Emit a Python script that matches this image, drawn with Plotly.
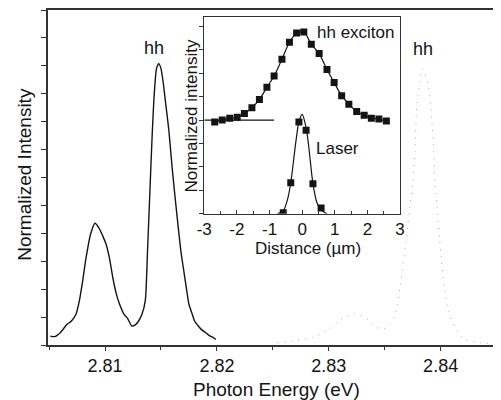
import plotly.graph_objects as go

# ---------------- data ----------------
# main spectrum (solid, left)
pl1_x = [2.8051, 2.8055, 2.8060, 2.8066, 2.8070, 2.8074, 2.8077, 2.8080, 2.8083,
         2.8087, 2.8091, 2.8095, 2.8098, 2.8101, 2.8104, 2.8107, 2.8110, 2.8113,
         2.8117, 2.8120, 2.8124, 2.8127, 2.8130, 2.8133, 2.8136, 2.8138, 2.8140,
         2.8142, 2.8144, 2.8146, 2.8148, 2.8150, 2.8152, 2.8154, 2.8157, 2.8160,
         2.8163, 2.8166, 2.8168, 2.8170, 2.8173, 2.8175, 2.8178, 2.8180, 2.8183,
         2.8186, 2.8190, 2.8194, 2.8197, 2.8199]
pl1_y = [0.16, 0.15, 0.22, 0.37, 0.43, 0.55, 0.79, 1.15, 1.56,
         1.98, 2.18, 2.08, 1.95, 1.80, 1.55, 1.20, 0.92, 0.73,
         0.55, 0.48, 0.34, 0.36, 0.43, 0.55, 0.80, 1.70, 2.70,
         3.70, 4.50, 4.95, 5.04, 4.95, 4.70, 4.36, 3.85, 3.17,
         2.57, 2.00, 1.65, 1.38, 0.98, 0.73, 0.55, 0.43, 0.35,
         0.28, 0.22, 0.16, 0.13, 0.10]

# second spectrum (dotted, right)
pl2_x = [2.8254, 2.8267, 2.8285, 2.8300, 2.8311, 2.8323, 2.8333, 2.8341, 2.8348,
         2.8355, 2.8359, 2.8364, 2.8369, 2.8373, 2.8375, 2.8377, 2.8379, 2.8384,
         2.8389, 2.8392, 2.8394, 2.8395, 2.8397, 2.8400, 2.8403, 2.8407, 2.8413,
         2.8421, 2.8435, 2.8447]
pl2_y = [0.04, 0.07, 0.13, 0.28, 0.46, 0.56, 0.49, 0.34, 0.28,
         0.38, 0.52, 1.08, 1.86, 2.57, 2.87, 3.46, 4.36, 4.95,
         4.66, 4.06, 3.46, 2.87, 2.45, 1.68, 1.08, 0.61, 0.31,
         0.10, 0.04, 0.02]

# inset: hh exciton spatial profile
exc_x = [-2.68, -2.45, -2.22, -1.99, -1.77, -1.54, -1.31, -1.08, -0.86, -0.62,
         -0.39, -0.17, 0.05, 0.28, 0.52, 0.76, 0.98, 1.21, 1.43, 1.67,
         1.90, 2.12, 2.35, 2.58]
exc_y = [0.98, 1.00, 1.02, 1.03, 1.07, 1.13, 1.22, 1.35, 1.47, 1.65,
         1.83, 1.93, 1.94, 1.81, 1.71, 1.54, 1.40, 1.26, 1.17, 1.09,
         1.05, 1.02, 1.01, 0.99]

# inset: laser profile (markers and fitted line)
las_x = [-0.58, -0.35, -0.10, 0.12, 0.33, 0.58]
las_y = [0.01, 0.33, 0.98, 0.89, 0.32, 0.06]
lasfit_x = [-0.75, -0.58, -0.45, -0.35, -0.20, -0.10, 0.00, 0.12, 0.20, 0.33, 0.45, 0.58, 0.75]
lasfit_y = [0.00, 0.03, 0.15, 0.33, 0.75, 0.98, 1.06, 0.92, 0.72, 0.32, 0.12, 0.04, 0.00]

# inset: horizontal reference line
hline_x = [-3.0, -0.86]
hline_y = [1.0, 1.0]

main_xticks = [2.81, 2.82, 2.83, 2.84]
inset_xticks = [-3, -2, -1, 0, 1, 2, 3]

FONT = "Liberation Sans, Arial, sans-serif"
INK = "#141414"
AX = "#333333"

def f(size):
    return dict(size=size, family=FONT, color=INK)

fig = go.Figure()

fig.add_trace(go.Scatter(x=pl1_x, y=pl1_y, mode="lines",
                         line=dict(color=INK, width=1.4, shape="spline", smoothing=0.6),
                         xaxis="x", yaxis="y", showlegend=False))
fig.add_trace(go.Scatter(x=pl2_x, y=pl2_y, mode="lines",
                         line=dict(color="#a8a8a8", width=1, dash="1px,6px", shape="spline", smoothing=0.6),
                         xaxis="x", yaxis="y", showlegend=False))

fig.add_trace(go.Scatter(x=hline_x, y=hline_y, mode="lines",
                         line=dict(color=INK, width=1.2),
                         xaxis="x2", yaxis="y2", showlegend=False))
fig.add_trace(go.Scatter(x=exc_x, y=exc_y, mode="lines+markers",
                         line=dict(color=INK, width=1.2, shape="spline", smoothing=0.8),
                         marker=dict(symbol="square", size=7, color=INK),
                         xaxis="x2", yaxis="y2", showlegend=False))
fig.add_trace(go.Scatter(x=lasfit_x, y=lasfit_y, mode="lines",
                         line=dict(color=INK, width=1.2, shape="spline", smoothing=0.8),
                         xaxis="x2", yaxis="y2", showlegend=False))
fig.add_trace(go.Scatter(x=las_x, y=las_y, mode="markers",
                         marker=dict(symbol="square", size=7, color=INK),
                         xaxis="x2", yaxis="y2", showlegend=False))

fig.update_layout(
    template="simple_white",
    width=493, height=392, autosize=False,
    margin=dict(l=40, r=0, t=1, b=55),
    paper_bgcolor="white", plot_bgcolor="white",
    font=f(18),
    xaxis=dict(domain=[0, 1], range=[2.8049, 2.84495], showgrid=False, zeroline=False,
               showline=True, linecolor=AX, linewidth=1.5, mirror=True,
               ticks="outside", ticklen=4, tickwidth=1.2, tickcolor=AX,
               tickvals=main_xticks, ticktext=[f"{v:.2f}" for v in main_xticks],
               tickfont=f(18),
               minor=dict(dtick=0.005, tick0=2.805, ticks="outside", ticklen=3, tickcolor=AX, tickwidth=1.2)),
    yaxis=dict(domain=[0, 1], range=[0, 6], showgrid=False, zeroline=False,
               showline=True, linecolor=AX, linewidth=1.5, mirror=False,
               ticks="outside", ticklen=5, tickwidth=1.2, tickcolor=AX,
               dtick=0.5, tick0=0, showticklabels=False),
    xaxis2=dict(domain=[0.3488, 0.7859], range=[-3, 3], anchor="y2", showgrid=False, zeroline=False,
                showline=True, linecolor=AX, linewidth=1.3, mirror=True,
                ticks="inside", ticklen=4, tickwidth=1.1, tickcolor=AX,
                tickvals=inset_xticks, ticktext=[str(v) for v in inset_xticks],
                tickfont=f(17),
                minor=dict(dtick=0.5, tick0=-3, ticks="inside", ticklen=3, tickcolor=AX, tickwidth=1.1)),
    yaxis2=dict(domain=[0.392, 0.979], range=[0, 2.1], anchor="x2", showgrid=False, zeroline=False,
                showline=True, linecolor=AX, linewidth=1.3, mirror=True,
                ticks="outside", ticklen=4, tickwidth=1.1, tickcolor=AX,
                dtick=0.25, tick0=0, showticklabels=False),
    annotations=[
        dict(text="Photon Energy (eV)", x=0.510, y=-0.134, xref="paper", yref="paper",
             showarrow=False, xanchor="center", yanchor="middle", font=f(19)),
        dict(text="Normalized Intensity", x=-0.053, y=0.509, xref="paper", yref="paper",
             showarrow=False, textangle=-90, xanchor="center", yanchor="middle", font=f(19)),
        dict(text="Normalized intensity", x=0.320, y=0.686, xref="paper", yref="paper",
             showarrow=False, textangle=-90, xanchor="center", yanchor="middle", font=f(17)),
        dict(text="Distance (µm)", x=0.5806, y=0.2887, xref="paper", yref="paper",
             showarrow=False, xanchor="center", yanchor="middle", font=f(17)),
        dict(text="hh", x=2.8144, y=5.32, xref="x", yref="y", showarrow=False,
             xanchor="center", yanchor="middle", font=f(18)),
        dict(text="hh", x=2.8384, y=5.30, xref="x", yref="y", showarrow=False,
             xanchor="center", yanchor="middle", font=f(18)),
        dict(text="hh exciton", x=0.39, y=1.94, xref="x2", yref="y2", showarrow=False,
             xanchor="left", yanchor="middle", font=f(17)),
        dict(text="Laser", x=0.35, y=0.70, xref="x2", yref="y2", showarrow=False,
             xanchor="left", yanchor="middle", font=f(17)),
    ],
)

fig.write_html("out.html")
